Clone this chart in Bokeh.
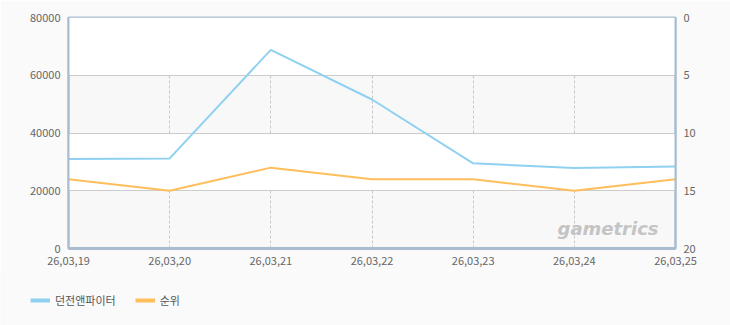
from bokeh.plotting import figure
from bokeh.layouts import column, row
from bokeh.models import (Range1d, LinearAxis, FixedTicker, BasicTickFormatter, Legend, LegendItem, Label)
from bokeh.embed import file_html
from bokeh.resources import INLINE

dates = ["26,03,19", "26,03,20", "26,03,21", "26,03,22", "26,03,23", "26,03,24", "26,03,25"]
users = [31000, 31200, 68800, 51600, 29500, 27900, 28400]
rank = [14, 15, 13, 14, 14, 15, 14]
left_ticks = [0, 20000, 40000, 60000, 80000]
right_ticks = [0, 5, 10, 15, 20]
series_names = ["던전앤파이터", "순위"]
series_colors = ["#8fd1f0", "#ffbe5c"]

xs = list(range(len(dates)))
bg = "#fafafa"

p = figure(width=730, height=270, output_backend="svg", toolbar_location=None,
           x_range=Range1d(0, len(dates) - 1), y_range=Range1d(0, 80000),
           min_border_left=68, min_border_right=55, min_border_top=17, min_border_bottom=22,
           background_fill_color="#f8f8f8", border_fill_color=bg)
p.extra_y_ranges = {"rank": Range1d(20, 0)}

font = "Noto Sans CJK KR"
lab_col = "#666666"
axis_col = "#a9bccf"

p.xaxis.ticker = FixedTicker(ticks=xs)
p.xaxis.major_label_overrides = {i: d for i, d in enumerate(dates)}
p.yaxis.ticker = FixedTicker(ticks=left_ticks)
p.yaxis.formatter = BasicTickFormatter(use_scientific=False)

for ax in [p.xaxis[0], p.yaxis[0]]:
    ax.axis_line_color = axis_col
    ax.axis_line_width = 2
    ax.major_tick_line_color = None
    ax.minor_tick_line_color = None
    ax.major_label_text_font = font
    ax.major_label_text_font_size = "11px"
    ax.major_label_text_color = lab_col
    ax.major_label_standoff = 2
p.xaxis.axis_line_width = 3

rax = LinearAxis(y_range_name="rank", ticker=FixedTicker(ticks=right_ticks),
                 axis_line_color=axis_col, axis_line_width=2,
                 major_tick_line_color=None, minor_tick_line_color=None,
                 major_label_text_font=font, major_label_text_font_size="11px",
                 major_label_text_color=lab_col, major_label_standoff=2)
p.add_layout(rax, "right")

p.outline_line_color = axis_col
p.outline_line_width = 2

p.ygrid.ticker = FixedTicker(ticks=left_ticks)
p.ygrid.grid_line_color = "#cccccc"
p.ygrid.band_fill_color = "white"
p.ygrid.band_fill_alpha = 1
p.xgrid.ticker = FixedTicker(ticks=xs[1:-1])
p.xgrid.grid_line_color = "#c8c8c8"
p.xgrid.grid_line_dash = "3 2"

wm = Label(x=489, y=10, x_units="screen", y_units="screen", text="gametrics",
           text_font="DejaVu Sans", text_font_style="bold italic", text_font_size="18px",
           text_color="#c4c4c4")
p.add_layout(wm)

p.line(xs, users, line_color=series_colors[0], line_width=2)
p.line(xs, rank, y_range_name="rank", line_color=series_colors[1], line_width=2)

# legend strip (series drawn off-frame, only the legend shows)
lf = figure(width=730, height=55, output_backend="svg", toolbar_location=None,
            x_range=Range1d(0, 1), y_range=Range1d(0, 1),
            x_axis_type=None, y_axis_type=None,
            min_border_left=0, min_border_right=0, min_border_top=0, min_border_bottom=0,
            background_fill_color=bg, border_fill_color=bg, outline_line_color=None)
lf.grid.visible = False
items = []
for name, col, vals in zip(series_names, series_colors, [users, rank]):
    r = lf.line(xs, vals, line_color=col, line_width=4)
    items.append(LegendItem(label=name, renderers=[r]))
legend = Legend(items=items, orientation="horizontal", location=(30, 17),
                label_text_font=font, label_text_font_size="11px", label_text_color="#555555",
                glyph_width=20, glyph_height=12, spacing=19, padding=0,
                background_fill_alpha=0, border_line_color=None,
                margin=0, label_standoff=5)
lf.add_layout(legend)

layout = column(p, row(lf, spacing=0), spacing=0)
open("out.html", "w").write(file_html(layout, INLINE))
